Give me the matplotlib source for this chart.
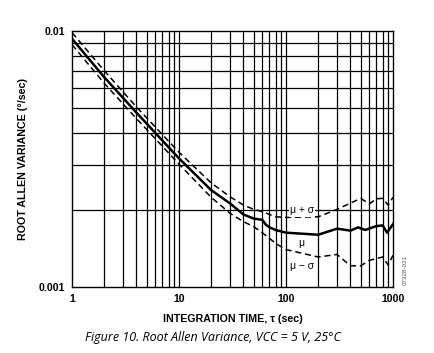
import matplotlib
matplotlib.use("Agg")
import matplotlib.pyplot as plt
from matplotlib.ticker import FixedLocator, NullFormatter, FixedFormatter

# Data
tau_mean = [1, 2, 4, 10, 20, 30, 40, 50, 60, 65, 70, 80, 100, 200, 300, 400, 470, 550, 700, 800, 880, 1000]
mu = [0.00933, 0.0066, 0.0048, 0.00318, 0.00239, 0.00212, 0.00192, 0.00185, 0.00183, 0.00175, 0.00171,
      0.00167, 0.00163, 0.0016, 0.00169, 0.00166, 0.00171, 0.00167, 0.00173, 0.00174, 0.00163, 0.00176]

tau_up = [1, 2, 4, 10, 20, 30, 40, 50, 60, 80, 100, 200, 300, 500, 600, 700, 800, 900, 1000]
mu_plus = [0.00986, 0.00700, 0.00505, 0.00336, 0.00255, 0.00225, 0.00209, 0.00201, 0.00197, 0.00188,
           0.00187, 0.00188, 0.00201, 0.00222, 0.00211, 0.00221, 0.00222, 0.00209, 0.00224]

tau_lo = [1, 2, 4, 10, 20, 30, 40, 50, 60, 70, 80, 100, 200, 300, 400, 500, 600, 800, 900, 1000]
mu_minus = [0.00885, 0.00625, 0.00455, 0.00302, 0.00224, 0.00194, 0.0018, 0.00172, 0.00163, 0.00155,
            0.00148, 0.0014, 0.00131, 0.00134, 0.00121, 0.00121, 0.00127, 0.00131, 0.00122, 0.00133]

x_ticks = [1, 10, 100, 1000]
x_tick_labels = ["1", "10", "100", "1000"]
y_ticks = [0.001, 0.01]
y_tick_labels = ["0.001", "0.01"]

plt.rcParams["font.family"] = ["Liberation Sans", "DejaVu Sans"]

fig = plt.figure(figsize=(4.34, 3.53), dpi=100)
ax = fig.add_axes([72/434, 1-287/353, (393-72)/434, (287-31)/353])
ax.set_xscale("log")
ax.set_yscale("log")
ax.set_xlim(1, 1000)
ax.set_ylim(0.001, 0.01)

# grid lines at every minor decade
xg = [m * 10**e for e in range(0, 3) for m in range(1, 10)][1:]
yg = [m * 0.001 for m in range(2, 10)]
for v in xg:
    ax.axvline(v, color="black", lw=0.9, zorder=1)
for v in yg:
    ax.axhline(v, color="black", lw=0.9, zorder=1)

ax.plot(tau_mean, mu, color="black", lw=1.8, zorder=3)
ax.plot(tau_up, mu_plus, color="black", lw=1.1, ls=(0, (4, 2.5)), zorder=3)
ax.plot(tau_lo, mu_minus, color="black", lw=1.1, ls=(0, (4, 2.5)), zorder=3)

bb = dict(boxstyle="square,pad=0.1", fc="white", ec="none")
ax.text(140, 0.00199, "μ + σ", fontsize=7.5, ha="center", va="center", bbox=bb, zorder=4)
ax.text(140, 0.00149, "μ", fontsize=7.5, ha="center", va="center", bbox=bb, zorder=4)
ax.text(140, 0.00121, "μ − σ", fontsize=7.5, ha="center", va="center", bbox=bb, zorder=4)

ax.xaxis.set_major_locator(FixedLocator(x_ticks))
ax.xaxis.set_major_formatter(FixedFormatter(x_tick_labels))
ax.xaxis.set_minor_formatter(NullFormatter())
ax.yaxis.set_major_locator(FixedLocator(y_ticks))
ax.yaxis.set_major_formatter(FixedFormatter(y_tick_labels))
ax.yaxis.set_minor_formatter(NullFormatter())
ax.tick_params(which="both", length=0, labelsize=7.6, pad=5)
for lab in ax.get_xticklabels() + ax.get_yticklabels():
    lab.set_fontweight("bold")
for s in ax.spines.values():
    s.set_color("black")
    s.set_linewidth(1.0)

ax.set_xlabel("INTEGRATION TIME, τ (sec)", fontsize=7.7, fontweight="bold", labelpad=7)
ax.set_ylabel("ROOT ALLEN VARIANCE (°/sec)", fontsize=7.7, fontweight="bold", labelpad=8)

fig.text(405/434, 1-270/353, "07328-021", fontsize=4.5, rotation=90, color="#555555",
         ha="center", va="center")
fig.text(213/434, 1-338/353, "Figure 10. Root Allen Variance, VCC = 5 V, 25°C",
         fontsize=9, style="italic", family="Open Sans", ha="center", va="center")

fig.savefig("out.png", dpi=100)
